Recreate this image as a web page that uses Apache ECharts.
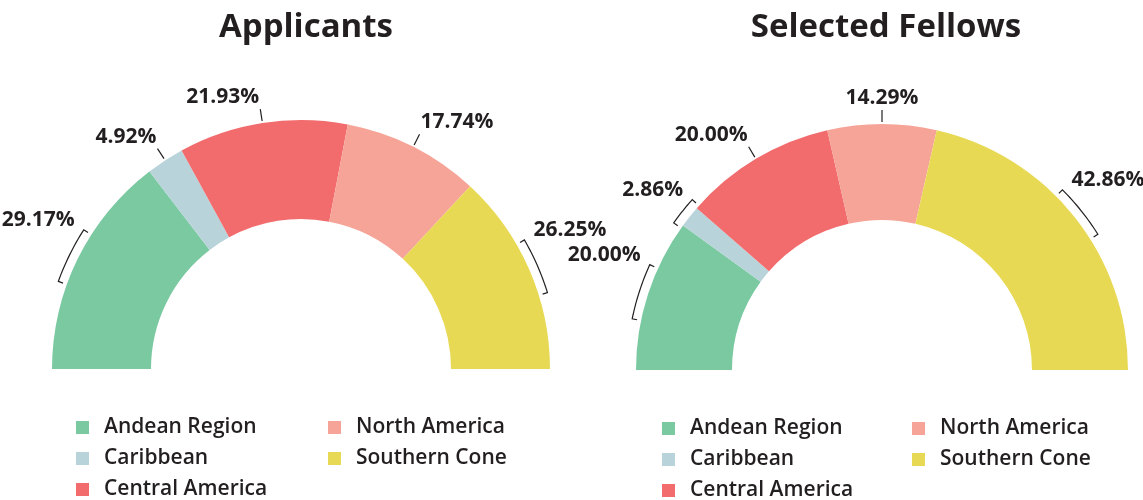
<!DOCTYPE html>
<html>
<head>
<meta charset="utf-8">
<script src="https://cdn.jsdelivr.net/npm/echarts@6/dist/echarts.min.js"></script>
<style>
  html, body { margin: 0; padding: 0; background: #fff; }
  #chart { width: 1143px; height: 500px; }
</style>
</head>
<body>
<div id="chart"></div>
<script>
// regions, in legend order
const regions = ["Andean Region", "Caribbean", "Central America", "North America", "Southern Cone"]
const regionColors = ["#7ac9a1", "#b9d3da", "#f26b6d", "#f5a497", "#e8d955"]

// share of each region, percent
const applicants = [29.17, 4.92, 21.93, 17.74, 26.25]
const fellows = [20.00, 2.86, 20.00, 14.29, 42.86]

const chartTitles = ["Applicants", "Selected Fellows"]

const FONT = "Open Sans"
const INK = "#231f20"

// layout of the two half donuts
const seriesValues = [applicants, fellows]
const pieCenters = [[301, 369], [882, 370]]
const pieRadii = [[150, 249], [150, 246]]

const buildData = values =>
  values.map((v, i) => ({
    name: regions[i],
    value: v,
    itemStyle: { color: regionColors[i] }
  }))

const polar = (c, r, deg) => {
  const a = deg * Math.PI / 180
  return [c[0] + r * Math.cos(a), c[1] - r * Math.sin(a)]
}

// angles of a slice on the half ring, degrees, 180 = left end
const sliceAngles = (values, i) => {
  const sum = arr => arr.reduce((a, b) => a + b, 0)
  const total = sum(values)
  const before = sum(values.slice(0, i))
  const a0 = 180 - 180 * before / total
  const a1 = 180 - 180 * (before + values[i]) / total
  return { mid: (a0 + a1) / 2, width: a0 - a1 }
}

// steep slices get a short radial tick, flatter ones a bracket along the rim
const calloutLayout = params => {
  const s = params.seriesIndex
  const i = params.dataIndex
  const c = pieCenters[s]
  const R = pieRadii[s][1]
  const { mid, width } = sliceAngles(seriesValues[s], i)
  const cosm = Math.cos(mid * Math.PI / 180)
  const sinm = Math.sin(mid * Math.PI / 180)
  const side = cosm > 0.05 ? 1 : cosm < -0.05 ? -1 : 0
  const align = side > 0 ? "left" : side < 0 ? "right" : "center"

  if (sinm > 0.7) {
    const start = polar(c, R + 2, mid)
    const end = polar(c, R + 14, mid)
    return {
      x: end[0] + side,
      y: end[1] - 1,
      align,
      verticalAlign: "bottom",
      labelLinePoints: [start, end, end]
    }
  }

  const half = Math.min(6.4, width * 0.65)
  const rb = R + 9
  const upper = mid + side * half
  const lower = mid - side * half
  const pts = [polar(c, rb - 5, upper)]
  const steps = 16
  for (let k = 0; k <= steps; k++) {
    pts.push(polar(c, rb, upper + (lower - upper) * k / steps))
  }
  pts.push(polar(c, rb - 5, lower))
  const top = polar(c, rb, upper)
  return {
    x: top[0] + side * 9,
    y: top[1] - 10,
    align,
    verticalAlign: "middle",
    labelLinePoints: pts
  }
}

const halfDonut = (name, values, center, radius) => ({
  name,
  type: "pie",
  center,
  radius,
  startAngle: 180,
  endAngle: 360,
  clockwise: true,
  avoidLabelOverlap: false,
  label: {
    show: true,
    position: "outside",
    formatter: p => p.value.toFixed(2) + "%",
    fontFamily: FONT,
    fontWeight: "bold",
    fontSize: 21,
    lineHeight: 22,
    color: INK,
    overflow: "none",
    bleedMargin: 0
  },
  labelLine: {
    show: true,
    length: 16,
    length2: 0,
    smooth: false,
    minTurnAngle: 0,
    lineStyle: { color: INK, width: 1.2 }
  },
  labelLayout: calloutLayout,
  emphasis: { disabled: true },
  data: buildData(values)
})

const legendBlock = (names, left, top) => ({
  orient: "vertical",
  left,
  top,
  height: 100,
  padding: 0,
  data: names,
  icon: "rect",
  itemWidth: 13,
  itemHeight: 13,
  itemGap: 10,
  selectedMode: false,
  textStyle: {
    fontFamily: FONT,
    fontSize: 21,
    fontWeight: 600,
    color: INK,
    lineHeight: 21,
    padding: [0, 0, 0, 10]
  }
})

const titleStyle = { fontFamily: FONT, fontSize: 33, fontWeight: "bold", color: INK }

const chart = echarts.init(document.getElementById("chart"))
chart.setOption({
  animation: false,
  title: [
    { text: chartTitles[0], left: 301, top: 6, textAlign: "center", textStyle: titleStyle },
    { text: chartTitles[1], left: 881, top: 6, textAlign: "center", textStyle: titleStyle }
  ],
  legend: [
    legendBlock(regions.slice(0, 3), 76, 417),
    legendBlock(regions.slice(3), 328, 417),
    legendBlock(regions.slice(0, 3), 662, 418),
    legendBlock(regions.slice(3), 912, 418)
  ],
  series: [
    halfDonut(chartTitles[0], applicants, pieCenters[0], pieRadii[0]),
    halfDonut(chartTitles[1], fellows, pieCenters[1], pieRadii[1])
  ]
})

window.addEventListener("resize", () => chart.resize())
</script>
</body>
</html>
